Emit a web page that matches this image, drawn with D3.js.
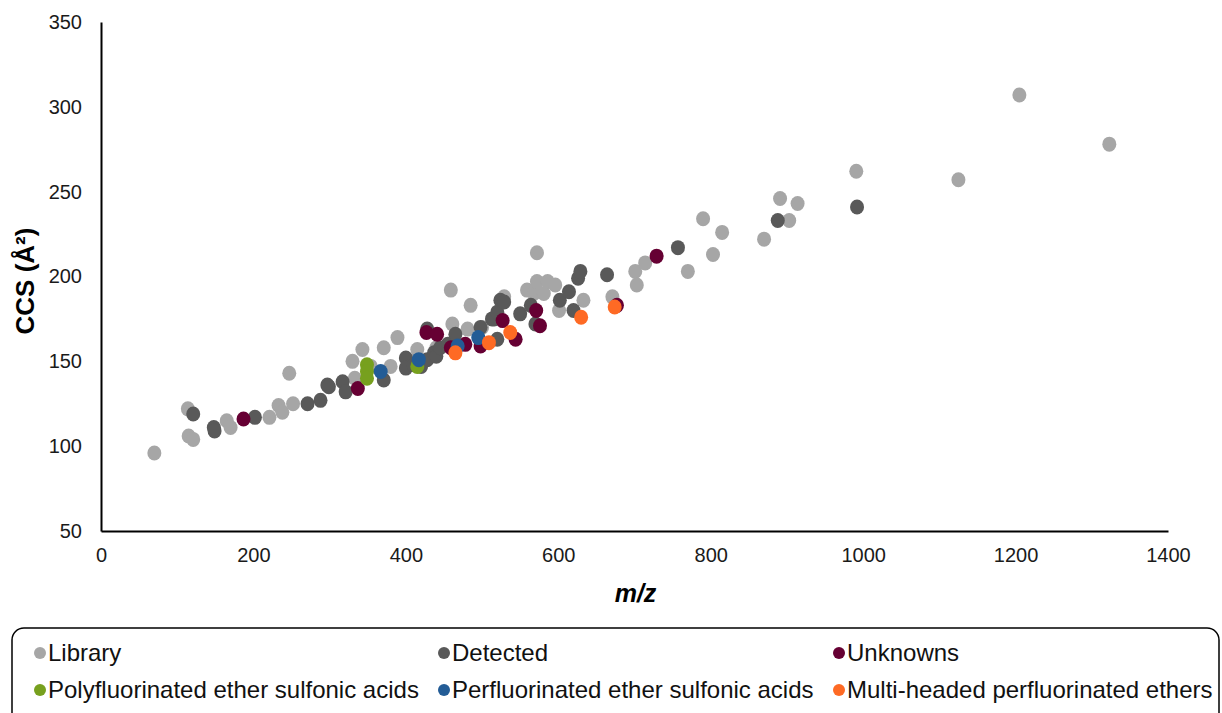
<!DOCTYPE html>
<html>
<head>
<meta charset="utf-8">
<script src="https://cdn.jsdelivr.net/npm/d3@7"></script>
<style>
  body { margin: 0; background: #fff; }
  text { font-family: "Liberation Sans", Arial, sans-serif; }
</style>
</head>
<body>
<div id="chart"></div>
<script>
// values: [m/z, CCS]
let library = [[70,96],[114,122],[115,106],[121,104],[165,115],[170,111],[221,117],[233,124],[238,120],
  [247,143],[252,125],[330,150],[333,140],[343,157],[354,147],[371,158],[380,147],[389,164],[415,152],
  [415,157],[440,158],[459,192],[461,172],[481,169],[485,183],[500,170],[529,188],[559,192],[568,190],
  [572,197],[572,214],[581,190],[586,197],[596,195],[601,180],[633,186],[671,188],[701,203],[703,195],
  [714,208],[770,203],[790,234],[803,213],[815,226],[870,222],[891,246],[903,233],[914,243],[991,262],
  [1125,257],[1205,307],[1323,278]]
let detected = [[121,119],[148,111],[149,109],[202,117],[271,125],[288,127],[297,136],[299,135],[317,138],
  [321,132],[371,139],[400,152],[400,146],[410,148],[420,147],[428,151],[428,169],[437,155],[440,153],
  [445,158],[455,160],[465,166],[498,170],[513,175],[516,175],[520,163],[520,179],[524,186],[529,185],
  [550,178],[564,183],[570,172],[602,186],[614,191],[620,180],[626,199],[629,203],[664,201],[757,217],
  [888,233],[992,241]]
let unknowns = [[187,116],[337,134],[427,167],[441,166],[459,158],[478,160],[498,159],[527,174],[544,163],
  [571,180],[576,171],[677,183],[729,212]]
let polyEther = [[349,148],[349,144],[349,140],[415,147]]
let perfEther = [[367,144],[417,151],[468,159],[495,164]]
let multiHeaded = [[465,155],[509,161],[537,167],[630,176],[674,182]]

let seriesNames = ["Library", "Detected", "Unknowns", "Polyfluorinated ether sulfonic acids",
  "Perfluorinated ether sulfonic acids", "Multi-headed perfluorinated ethers"]
let seriesData = [library, detected, unknowns, polyEther, perfEther, multiHeaded]
let colors = ["#a6a6a6", "#595959", "#660033", "#77a01e", "#235c96", "#fe6a24"]

let xTicks = [0, 200, 400, 600, 800, 1000, 1200, 1400]
let yTicks = [50, 100, 150, 200, 250, 300, 350]

let margin = { top: 22, right: 54, bottom: 182, left: 101 },
  width = 1222 - margin.left - margin.right,
  height = 713 - margin.top - margin.bottom;

let root = d3.select("#chart")
  .append("svg")
  .attr("width", 1222)
  .attr("height", 713)

let svg = root.append("g")
  .attr("transform", "translate(" + margin.left + "," + margin.top + ")")

let x = d3.scaleLinear()
  .domain([0, 1400])
  .range([0, width])

let y = d3.scaleLinear()
  .domain([50, 350])
  .range([height, 0])

let xAxis = svg.append("g")
  .attr("transform", "translate(0," + height + ")")
  .call(d3.axisBottom(x).tickValues(xTicks).tickFormat(d3.format("d")).tickSize(0).tickPadding(17))
xAxis.select(".domain").attr("stroke", "#000").attr("stroke-width", 2)
xAxis.selectAll("text").style("font-size", "20px").attr("fill", "#1a1a1a")

let yAxis = svg.append("g")
  .call(d3.axisLeft(y).tickValues(yTicks).tickFormat(d3.format("d")).tickSize(0).tickPadding(19))
yAxis.select(".domain").attr("stroke", "#000").attr("stroke-width", 2)
yAxis.selectAll("text").style("font-size", "20px").attr("fill", "#1a1a1a")

// points, later series on top
seriesData.forEach((pts, i) => {
  svg.append("g")
    .selectAll("ellipse")
    .data(pts)
    .join("ellipse")
    .attr("cx", d => x(d[0]))
    .attr("cy", d => y(d[1]))
    .attr("rx", 7)
    .attr("ry", 7.5)
    .style("fill", colors[i])
})

// axis titles
root.append("text")
  .attr("transform", "translate(34," + 281 + ") rotate(-90)")
  .attr("text-anchor", "middle")
  .style("font-size", "26px")
  .style("font-weight", "bold")
  .text("CCS (Å²)")

root.append("text")
  .attr("x", margin.left + width / 2 + 1)
  .attr("y", 602)
  .attr("text-anchor", "middle")
  .style("font-size", "25px")
  .style("font-weight", "bold")
  .style("font-style", "italic")
  .text("m/z")

// legend
root.append("rect")
  .attr("x", 12)
  .attr("y", 628)
  .attr("width", 1207)
  .attr("height", 100)
  .attr("rx", 12)
  .style("fill", "none")
  .style("stroke", "#000")
  .style("stroke-width", 1.5)

let legendCols = [40, 444, 839]
let legendRows = [653, 690]
let legend = root.append("g")
  .selectAll("g")
  .data(seriesNames)
  .join("g")
  .attr("transform", (d, i) => "translate(" + legendCols[i % 3] + "," + legendRows[Math.floor(i / 3)] + ")")

legend.append("circle")
  .attr("r", 6)
  .style("fill", (d, i) => colors[i])

legend.append("text")
  .attr("x", 8)
  .attr("dy", "0.35em")
  .style("font-size", "24px")
  .attr("fill", "#111")
  .text(d => d)
</script>
</body>
</html>
